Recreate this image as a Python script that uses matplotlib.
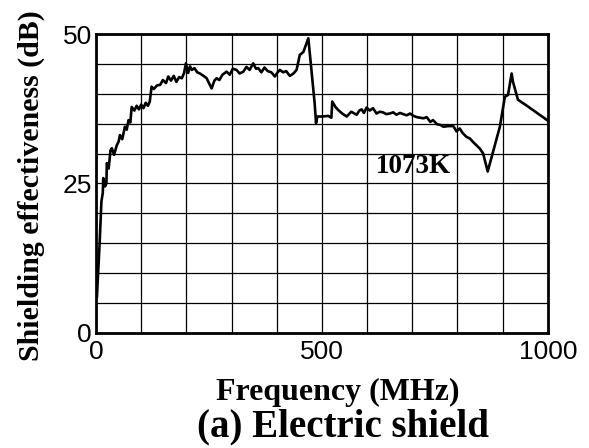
import matplotlib
matplotlib.use("Agg")
import matplotlib.pyplot as plt

# ---------- Data ----------
freq_mhz = [2, 8, 12, 15, 16, 20, 23, 24, 28, 32, 35, 40, 46, 50, 53, 58, 64, 68,
            72, 76, 79, 85, 90, 95, 100, 105, 110, 115, 119, 123, 128, 135, 142,
            148, 155, 160, 166, 172, 178, 184, 190, 195, 199, 204, 208, 212, 218,
            224, 230, 238, 245, 250, 256, 262, 267, 273, 280, 289, 296, 303, 311,
            318, 326, 333, 340, 348, 354, 359, 366, 373, 380, 388, 396, 402, 407,
            414, 421, 429, 437, 444, 451, 459, 470, 484, 487, 490, 500, 514, 521,
            523, 530, 536, 545, 555, 565, 577, 583, 588, 593, 599, 606, 613, 621,
            628, 635, 643, 650, 658, 665, 673, 680, 688, 695, 703, 710, 717, 725,
            732, 740, 746, 755, 762, 769, 780, 791, 798, 805, 812, 820, 828, 835,
            842, 850, 857, 867, 880, 894, 905, 912, 920, 923, 934, 950, 965, 980,
            993, 1000]
shield_db = [6.0, 15.0, 22.0, 23.4, 25.9, 24.5, 25.0, 28.4, 27.5, 30.5, 30.9, 29.8,
             31.4, 32.0, 33.1, 32.4, 34.5, 34.0, 35.6, 35.2, 37.8, 37.2, 38.0, 37.4,
             38.2, 37.6, 38.5, 38.0, 38.7, 41.2, 40.8, 41.4, 41.5, 42.3, 41.8, 42.9,
             42.2, 43.0, 42.0, 42.8, 42.6, 43.5, 45.1, 43.5, 44.6, 44.0, 44.3, 43.6,
             43.4, 43.0, 42.6, 41.8, 40.9, 42.2, 42.6, 42.3, 43.2, 43.7, 43.2, 44.2,
             44.0, 43.4, 43.7, 44.5, 44.0, 45.1, 44.2, 44.3, 43.6, 44.4, 43.8, 43.6,
             42.9, 43.6, 44.0, 43.6, 43.8, 43.0, 43.4, 44.0, 46.5, 47.0, 49.3, 38.4,
             35.1, 36.2, 36.2, 36.3, 36.0, 38.7, 37.8, 37.3, 36.7, 36.2, 37.0, 36.5,
             37.2, 37.4, 36.8, 37.7, 37.2, 37.6, 36.7, 37.0, 36.9, 36.6, 36.7, 36.9,
             36.5, 36.8, 36.6, 36.4, 36.7, 36.3, 36.1, 36.0, 35.9, 36.1, 35.3, 35.6,
             34.9, 34.8, 34.5, 34.6, 34.6, 33.7, 34.2, 33.4, 32.8, 32.5, 31.9, 31.4,
             30.8, 30.0, 27.0, 30.6, 34.5, 39.5, 39.8, 43.4, 42.0, 39.0, 38.2, 37.4,
             36.6, 35.9, 35.5]

x_ticks = [0, 500, 1000]
y_ticks = [0, 25, 50]

SERIF = ["Liberation Serif", "DejaVu Serif"]
SANS = ["Liberation Sans", "DejaVu Sans"]


def main():
    fig = plt.figure(figsize=(5.89, 4.48), dpi=100)
    ax = fig.add_axes([0.163, 0.257, 0.767, 0.667])

    # Grid every 100 MHz / 5 dB
    for f in range(100, 1000, 100):
        ax.axvline(f, color="black", lw=0.9, zorder=1)
    for d in range(5, 50, 5):
        ax.axhline(d, color="black", lw=0.9, zorder=1)

    ax.plot(freq_mhz, shield_db, color="black", lw=1.9, zorder=3)

    ax.set_xlim(0, 1000)
    ax.set_ylim(0, 50)
    ax.set_xticks(x_ticks)
    ax.set_yticks(y_ticks)
    ax.tick_params(length=0, labelsize=19)
    ax.tick_params(axis="x", pad=5)
    ax.tick_params(axis="y", pad=3)
    for lbl in ax.get_xticklabels() + ax.get_yticklabels():
        lbl.set_family(SANS)
    for sp in ax.spines.values():
        sp.set_linewidth(2)

    ax.text(620, 27.8, "1073K", family=SERIF, weight="bold", fontsize=19.5,
            va="center", ha="left", zorder=4)

    # Axis titles placed on the figure
    fig.text(0.573, 0.125, "Frequency (MHz)", family=SERIF, weight="bold",
             fontsize=23, ha="center", va="center")
    fig.text(0.053, 0.585, "Shielding effectiveness (dB)", family=SERIF,
             weight="bold", fontsize=21.5, rotation=90, ha="center", va="center")
    fig.text(0.583, 0.046, "(a) Electric shield", family=SERIF, weight="bold",
             fontsize=28, ha="center", va="center")

    fig.savefig("out.png", dpi=100)
    plt.close(fig)


if __name__ == "__main__":
    main()
